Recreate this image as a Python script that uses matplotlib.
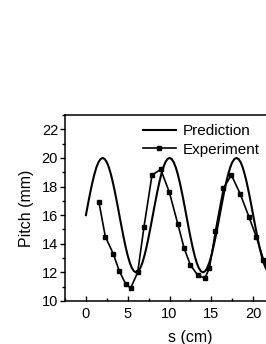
import matplotlib
matplotlib.use("Agg")
import matplotlib.pyplot as plt
from matplotlib.ticker import MultipleLocator

plt.rcParams['font.family'] = ['Liberation Sans', 'DejaVu Sans']

# Prediction curve, sampled every 0.25 cm
pred_s = [i * 0.25 for i in range(89)]
pred_pitch = [16.0, 16.78, 17.53, 18.22, 18.83, 19.33, 19.70, 19.92,
              20.0, 19.92, 19.70, 19.33, 18.83, 18.22, 17.53, 16.78,
              16.0, 15.22, 14.47, 13.78, 13.17, 12.67, 12.30, 12.08,
              12.0, 12.08, 12.30, 12.67, 13.17, 13.78, 14.47, 15.22,
              16.0, 16.78, 17.53, 18.22, 18.83, 19.33, 19.70, 19.92,
              20.0, 19.92, 19.70, 19.33, 18.83, 18.22, 17.53, 16.78,
              16.0, 15.22, 14.47, 13.78, 13.17, 12.67, 12.30, 12.08,
              12.0, 12.08, 12.30, 12.67, 13.17, 13.78, 14.47, 15.22,
              16.0, 16.78, 17.53, 18.22, 18.83, 19.33, 19.70, 19.92,
              20.0, 19.92, 19.70, 19.33, 18.83, 18.22, 17.53, 16.78,
              16.0, 15.22, 14.47, 13.78, 13.17, 12.67, 12.30, 12.08,
              12.0]

# Experiment points
exp_s = [1.56, 2.32, 3.27, 3.99, 4.75, 5.35, 6.19, 6.95, 7.9, 8.94,
         9.98, 10.98, 11.74, 12.5, 13.38, 14.22, 14.77, 15.49, 16.45,
         17.4, 18.44, 19.48, 20.36, 21.23, 22.1]
exp_pitch = [16.9, 14.5, 13.3, 12.1, 11.2, 10.9, 12.0, 15.2, 18.8, 19.2,
             17.6, 15.4, 13.7, 12.5, 11.8, 11.6, 12.3, 14.9, 17.9,
             18.8, 17.5, 15.9, 14.5, 12.9, 11.6]

x_ticks = [0, 5, 10, 15, 20]

fig = plt.figure(figsize=(2.66, 3.44), dpi=100)
ax = fig.add_axes([65 / 266, 43 / 344, 230 / 266, 186 / 344])

ax.plot(pred_s, pred_pitch, color='black', lw=1.5, label='Prediction')
ax.plot(exp_s, exp_pitch, color='black', lw=1.2, marker='s', markersize=3,
        label='Experiment')

ax.set_xlim(-2.5, 25)
ax.set_ylim(10, 23)
ax.set_xticks(x_ticks)
ax.xaxis.set_minor_locator(MultipleLocator(2.5))
ax.yaxis.set_major_locator(MultipleLocator(2))
ax.yaxis.set_minor_locator(MultipleLocator(1))
ax.tick_params(axis='x', which='both', direction='in', labelsize=10.5, pad=4)
ax.tick_params(axis='y', which='both', direction='out', labelsize=10.5, pad=1.5)
ax.tick_params(which='major', length=3.5, width=1)
ax.tick_params(which='minor', length=2.5, width=1)
for sp in ax.spines.values():
    sp.set_linewidth(1.1)

ax.set_xlabel('s (cm)', fontsize=11.5)
ax.set_ylabel('Pitch (mm)', fontsize=11.5)
ax.xaxis.set_label_coords((190 - 65) / 230, -0.155)
ax.yaxis.set_label_coords(-0.135, 0.5)

ax.legend(loc='upper left', bbox_to_anchor=(143 / 266, 1 - 124 / 344),
          bbox_transform=fig.transFigure, frameon=False, fontsize=11,
          borderpad=0, borderaxespad=0, handlelength=2.15,
          handletextpad=0.45, labelspacing=0.3)

fig.savefig('out.png', dpi=100)
